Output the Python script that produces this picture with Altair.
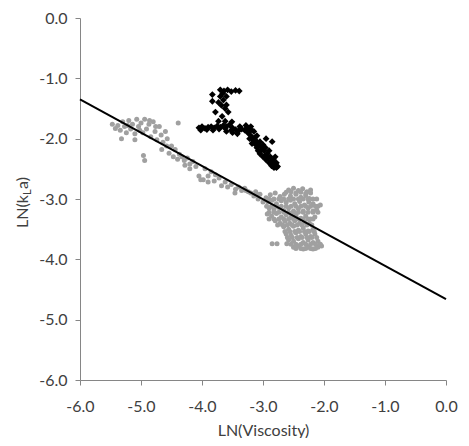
import altair as alt
import pandas as pd

# Gray series (LN viscosity, LN kLa)
gray_x = [
    -5.47, -5.42, -5.38, -5.34, -5.30, -5.27, -5.24, -5.20, -5.17, -5.14, -5.10, -5.07, -5.04, -5.00,
    -4.97, -4.94, -4.91, -4.87, -4.84, -4.80, -4.77, -4.74, -4.70, -4.67, -4.64, -4.60, -4.57, -4.54,
    -4.50, -4.47, -4.44, -4.40, -4.37, -4.33, -4.29, -4.24, -4.20, -4.15, -4.10, -4.05, -3.98, -3.90,
    -4.39, -4.96, -4.94, -5.32, -5.10, -4.66, -4.58, -4.28, -4.20, -5.22, -5.02, -4.86, -4.76,
    -3.95, -3.90, -3.85, -3.80, -3.78, -3.72, -3.68, -3.62, -3.58, -3.52, -3.45, -3.40, -3.35, -3.30,
    -3.15, -3.08, -3.00, -3.46, -4.02, -3.24, -3.10,
    -2.58, -2.50, -2.42, -2.35, -2.28, -2.22, -2.55, -2.46, -2.38, -2.30, -2.24, -2.65, -2.72, -2.80,
    -2.88, -2.95, -3.05, -3.12, -3.20, -3.28,
    -2.62, -2.54, -2.46, -2.38, -2.30, -2.22,
    -2.90, -2.82, -2.74, -2.66, -2.58, -2.50, -2.42, -2.34, -2.26, -2.18, -2.12,
    -2.92, -2.85, -2.78, -2.70, -2.62, -2.55, -2.48, -2.40, -2.32, -2.25, -2.18, -2.10, -2.06, -2.90,
    -2.82, -2.74, -2.66, -2.58, -2.50, -2.42, -2.34, -2.26, -2.18, -2.12,
    -2.94, -2.86, -2.78, -2.70, -2.62, -2.54, -2.46, -2.38, -2.30, -2.22, -2.14,
    -2.90, -2.82, -2.74, -2.66, -2.58, -2.50, -2.42, -2.34, -2.26, -2.18, -2.10,
    -2.93, -2.86, -2.78, -2.70, -2.62, -2.54, -2.46, -2.38, -2.30, -2.22, -2.15, -2.80, -2.72, -2.64,
    -2.56, -2.48, -2.40, -2.32, -2.24,
    -2.90, -2.82, -2.74, -2.66, -2.58, -2.50, -2.42, -2.34, -2.26, -2.18,
    -2.76, -2.68, -2.60, -2.52, -2.44, -2.36, -2.28, -2.20,
    -2.66, -2.58, -2.50, -2.42, -2.34, -2.26, -2.18, -2.62, -2.54, -2.46, -2.38, -2.30, -2.22, -2.15,
    -2.64, -2.56, -2.48, -2.40, -2.32, -2.24, -2.16,
    -2.60, -2.52, -2.44, -2.36, -2.28, -2.20, -2.12,
    -2.58, -2.50, -2.42, -2.34, -2.26, -2.18, -2.10, -2.50, -2.42, -2.34, -2.26, -2.18, -2.10, -2.04,
    -2.54, -2.46, -2.38, -2.30, -2.22, -2.14, -2.06,
    -2.46, -2.38, -2.30, -2.22, -2.14,
    -2.85, -2.77, -2.61,
]
gray_y = [
    -1.76, -1.83, -1.78, -1.86, -1.72, -1.80, -1.90, -1.70, -1.84, -1.76, -1.92, -1.68, -1.80, -1.74,
    -1.90, -1.68, -1.84, -1.76, -1.97, -1.72, -1.88, -2.02, -1.80, -1.94, -2.06, -1.88, -2.00, -2.24,
    -2.12, -2.30, -2.18, -2.34, -2.26, -2.30, -2.36, -2.32, -2.42, -2.38, -2.46, -2.62, -2.68, -2.72,
    -1.74, -2.28, -2.36, -2.00, -2.02, -2.18, -2.12, -2.44, -2.50, -1.78, -1.86, -1.70, -1.80,
    -2.50, -2.62, -2.55, -2.70, -2.60, -2.65, -2.78, -2.72, -2.80, -2.76, -2.84, -2.80, -2.86, -2.82,
    -2.95, -3.00, -3.05, -2.90, -2.68, -2.88, -2.92,
    -2.85, -2.82, -2.86, -2.83, -2.88, -2.85, -2.95, -2.92, -2.97, -2.94, -2.99, -2.92, -2.96, -2.90,
    -2.93, -2.98, -2.92, -2.88, -2.90, -2.86,
    -2.89, -2.88, -2.90, -2.89, -2.91, -2.90,
    -3.00, -3.00, -3.00, -3.00, -3.00, -3.00, -3.00, -3.00, -3.00, -3.00, -3.00,
    -3.05, -3.02, -3.08, -3.03, -3.06, -3.02, -3.08, -3.04, -3.10, -3.05, -3.08, -3.12, -3.10, -3.15,
    -3.18, -3.14, -3.19, -3.15, -3.20, -3.16, -3.20, -3.15, -3.20, -3.18,
    -3.12, -3.12, -3.12, -3.12, -3.12, -3.12, -3.12, -3.12, -3.12, -3.12, -3.12,
    -3.22, -3.22, -3.22, -3.22, -3.22, -3.22, -3.22, -3.22, -3.22, -3.22, -3.22,
    -3.25, -3.28, -3.24, -3.30, -3.26, -3.30, -3.27, -3.32, -3.28, -3.33, -3.30, -3.36, -3.40, -3.37,
    -3.40, -3.36, -3.40, -3.38, -3.40,
    -3.33, -3.33, -3.33, -3.33, -3.33, -3.33, -3.33, -3.33, -3.33, -3.33,
    -3.43, -3.43, -3.43, -3.43, -3.43, -3.43, -3.43, -3.43,
    -3.46, -3.50, -3.45, -3.52, -3.48, -3.53, -3.50, -3.58, -3.60, -3.56, -3.62, -3.58, -3.62, -3.58,
    -3.54, -3.54, -3.54, -3.54, -3.54, -3.54, -3.54,
    -3.64, -3.64, -3.64, -3.64, -3.64, -3.64, -3.64,
    -3.68, -3.70, -3.66, -3.72, -3.68, -3.72, -3.70, -3.80, -3.78, -3.83, -3.80, -3.83, -3.80, -3.78,
    -3.75, -3.75, -3.75, -3.75, -3.75, -3.75, -3.75,
    -3.82, -3.82, -3.82, -3.82, -3.82,
    -3.74, -3.74, -3.74,
]

# Black series
black_x = [
    -4.05, -4.00, -3.95, -3.90, -3.85, -3.80, -3.75, -3.70, -3.65, -3.60, -3.55, -3.50, -3.45, -3.40,
    -3.35, -3.30, -3.25, -3.20, -3.60, -3.50, -3.42,
    -4.02, -3.92, -3.82, -3.72, -3.62, -3.52, -3.38, -3.28, -3.22,
    -3.70, -3.64, -3.58, -3.52, -3.45, -3.39, -3.83, -3.83, -3.70, -3.65, -3.60, -3.68, -3.62,
    -3.66, -3.60, -3.73,
    -3.78, -3.67, -3.57, -3.73, -3.62, -3.51,
    -3.25, -3.20, -3.18, -3.15, -3.15, -3.12, -3.10, -3.10, -3.08, -3.05, -3.05, -3.02, -3.00, -2.98,
    -2.95, -2.93, -2.90, -2.88, -2.85, -2.83, -2.80, -2.78, -2.76, -2.95, -2.85, -3.20, -3.00, -2.90,
    -3.22, -3.18, -3.13, -3.10, -3.07, -3.03, -2.97, -2.96, -2.92, -2.87, -2.82, -2.80, -2.86, -2.82,
    -2.78,
]
black_y = [
    -1.82, -1.80, -1.83, -1.81, -1.80, -1.82, -1.79, -1.81, -1.78, -1.80, -1.77, -1.82, -1.85, -1.87,
    -1.84, -1.86, -1.82, -1.80, -1.88, -1.90, -1.92,
    -1.86, -1.85, -1.86, -1.84, -1.83, -1.86, -1.80, -1.78, -1.88,
    -1.19, -1.21, -1.19, -1.22, -1.20, -1.21, -1.27, -1.38, -1.30, -1.36, -1.44, -1.45, -1.50,
    -1.25, -1.30, -1.40,
    -1.56, -1.63, -1.56, -1.71, -1.71, -1.72,
    -1.90, -1.95, -2.00, -1.88, -2.05, -2.10, -1.95, -2.15, -2.20, -2.05, -2.25, -2.15, -2.30, -2.20,
    -2.35, -2.25, -2.40, -2.30, -2.42, -2.35, -2.45, -2.40, -2.46, -2.00, -2.05, -1.85, -2.10, -2.20,
    -2.00, -2.08, -1.98, -2.05, -2.12, -2.20, -2.28, -2.15, -2.32, -2.37, -2.40, -2.30, -2.45, -2.48,
    -2.48,
]

# Trend line end points
line_x = [-6.0, 0.0]
line_y = [-1.35, -4.66]

ticks = [-6.0, -5.0, -4.0, -3.0, -2.0, -1.0, 0.0]

gray_df = pd.DataFrame({"x": gray_x, "y": gray_y})
black_df = pd.DataFrame({"x": black_x, "y": black_y})
line_df = pd.DataFrame({"x": line_x, "y": line_y})

FONT = "Lato"
FS = 16
TXT = "#404040"
LABEL_EXPR = "replace(format(datum.value, '.1f'), '\u2212', '-')"

xscale = alt.Scale(domain=[-6, 0], nice=False, zero=False)
yscale = alt.Scale(domain=[-6, 0], nice=False, zero=False)
xaxis = alt.Axis(values=ticks, labelExpr=LABEL_EXPR, title="LN(Viscosity)", tickSize=5,
                 labelPadding=13, titlePadding=8, labelFlush=False)
yaxis = alt.Axis(values=ticks, labelExpr=LABEL_EXPR, title=None, tickSize=5, labelPadding=8,
                 labelFlush=False)

gray = alt.Chart(gray_df).mark_circle(size=25, color="#A0A0A0", opacity=1).encode(
    x=alt.X("x:Q", scale=xscale, axis=xaxis),
    y=alt.Y("y:Q", scale=yscale, axis=yaxis),
)
black = alt.Chart(black_df).mark_point(shape="diamond", filled=True, size=46, color="black", opacity=1).encode(
    x=alt.X("x:Q", scale=xscale),
    y=alt.Y("y:Q", scale=yscale),
)
trend = alt.Chart(line_df).mark_line(color="black", strokeWidth=2).encode(
    x=alt.X("x:Q", scale=xscale),
    y=alt.Y("y:Q", scale=yscale),
)

# y-axis title with subscript, composed of pieces
t1 = alt.Chart(pd.DataFrame({"t": ["LN(k"]})).mark_text(
    angle=270, align="left", baseline="middle", font=FONT, fontSize=FS, color=TXT
).encode(text="t:N", x=alt.value(-57), y=alt.value(210))
t2 = alt.Chart(pd.DataFrame({"t": ["L"]})).mark_text(
    angle=270, align="left", baseline="middle", font=FONT, fontSize=11, color=TXT
).encode(text="t:N", x=alt.value(-52), y=alt.value(177))
t3 = alt.Chart(pd.DataFrame({"t": ["a)"]})).mark_text(
    angle=270, align="left", baseline="middle", font=FONT, fontSize=FS, color=TXT
).encode(text="t:N", x=alt.value(-57), y=alt.value(171))

chart = alt.layer(gray, black, trend, t1, t2, t3).properties(
    width=366, height=362,
    autosize=alt.AutoSizeParams(type="none"),
    padding={"left": 72, "top": 10, "right": 15, "bottom": 58},
).configure_view(stroke=None).configure_axis(
    grid=False,
    domainColor="#868686",
    tickColor="#868686",
    labelFont=FONT,
    labelFontSize=FS,
    labelColor=TXT,
    titleFont=FONT,
    titleFontSize=FS,
    titleFontWeight="normal",
    titleColor=TXT,
)

chart.save("out.html", embed_options={"renderer": "svg", "actions": False})
